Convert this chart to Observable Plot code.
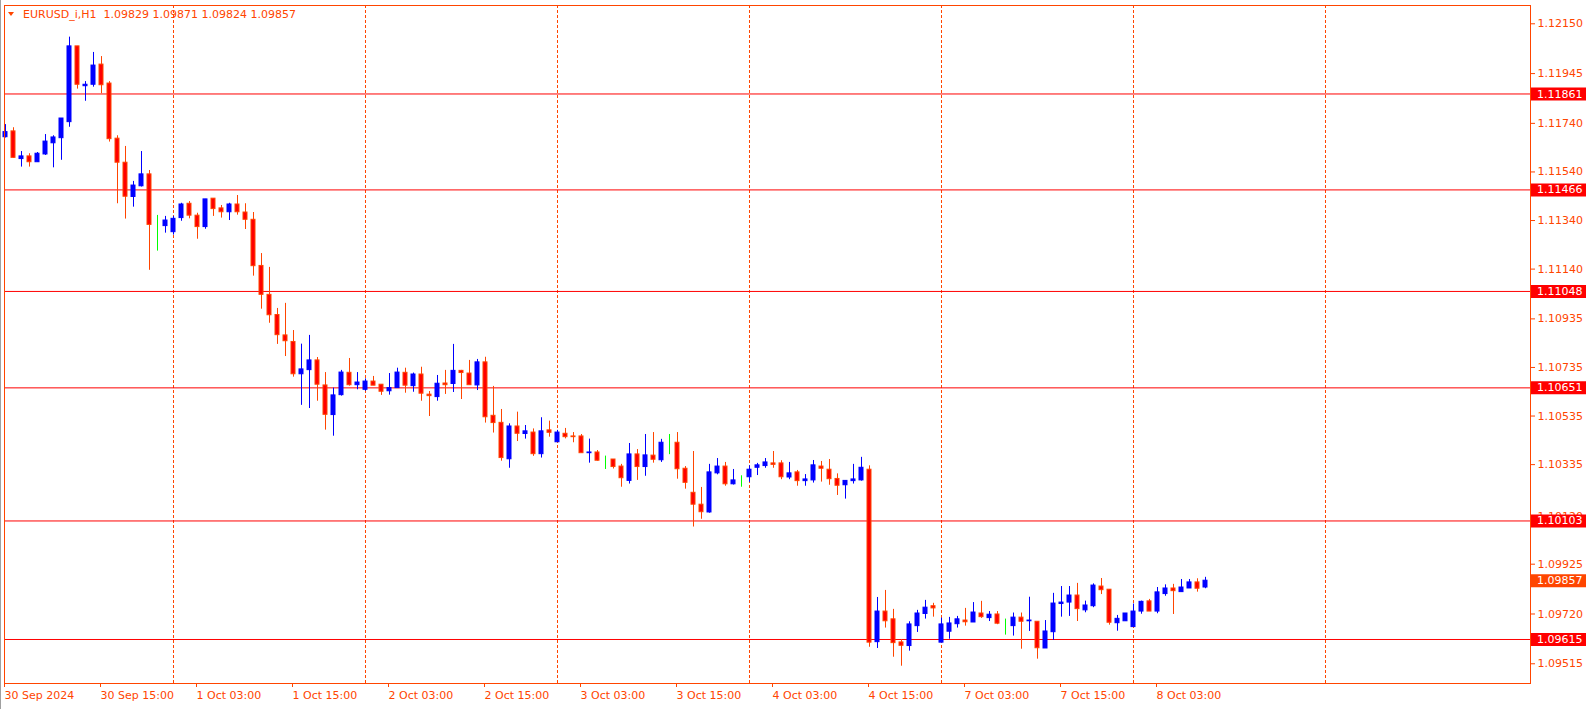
<!DOCTYPE html>
<html><head><meta charset="utf-8">
<script src="https://cdn.jsdelivr.net/npm/d3@7"></script>
<script src="https://cdn.jsdelivr.net/npm/@observablehq/plot@0.6"></script>
<style>
html,body{margin:0;padding:0;background:#fff;overflow:hidden}
#wrap{position:relative;width:1586px;height:709px}
#title{position:absolute;left:23px;top:9px;font:11px "DejaVu Sans";line-height:11px;color:#ff4500;white-space:pre}
#tri{position:absolute;left:8px;top:12px;width:0;height:0;border-left:3.5px solid transparent;border-right:3.5px solid transparent;border-top:4px solid #ff4500}
#edge{position:absolute;left:0;top:0;width:1px;height:709px;background:#a0a0a0}
</style></head>
<body><div id="wrap"><div id="chart"></div><div id="tri"></div><div id="title"></div><div id="edge"></div></div>
<script>
const symbolName = "EURUSD_i,H1";

const opens = [1.11683,1.11707,1.11593,1.11604,1.11580,1.11612,1.11658,1.11679,1.11745,1.12057,
1.11893,1.11899,1.11982,1.11904,1.11677,1.11578,1.11437,1.11481,1.11530,1.11322,
1.11317,1.11292,1.11350,1.11409,1.11360,1.11313,1.11430,1.11390,1.11374,1.11406,
1.11373,1.11343,1.11153,1.11034,1.10951,1.10867,1.10840,1.10707,1.10724,1.10764,
1.10661,1.10539,1.10621,1.10713,1.10662,1.10643,1.10677,1.10664,1.10637,1.10650,
1.10713,1.10658,1.10706,1.10623,1.10613,1.10669,1.10667,1.10721,1.10710,1.10661,
1.10756,1.10536,1.10507,1.10357,1.10492,1.10461,1.10467,1.10378,1.10476,1.10427,
1.10462,1.10451,1.10451,1.10382,1.10385,1.10353,1.10356,1.10327,1.10268,1.10377,
1.10325,1.10372,1.10353,1.10425,1.10425,1.10318,1.10219,1.10170,1.10138,1.10299,
1.10327,1.10254,1.10267,1.10283,1.10322,1.10329,1.10340,1.10340,1.10282,1.10303,
1.10267,1.10270,1.10327,1.10314,1.10276,1.10250,1.10267,1.10270,1.10314,1.09604,
1.09730,1.09698,1.09603,1.09588,1.09670,1.09720,1.09752,1.09602,1.09647,1.09678,
1.09693,1.09685,1.09722,1.09703,1.09718,1.09681,1.09670,1.09705,1.09690,1.09688,
1.09578,1.09645,1.09761,1.09767,1.09796,1.09735,1.09752,1.09833,1.09820,1.09682,
1.09690,1.09666,1.09730,1.09772,1.09730,1.09802,1.09825,1.09810,1.09825,1.09850,
1.09829];

const highs = [1.11735,1.11722,1.11624,1.11615,1.11620,1.11694,1.11689,1.11760,1.12095,1.12057,
1.11912,1.12032,1.12015,1.11912,1.11689,1.11645,1.11501,1.11624,1.11546,1.11361,
1.11357,1.11357,1.11411,1.11418,1.11370,1.11427,1.11430,1.11402,1.11411,1.11443,
1.11409,1.11373,1.11204,1.11147,1.10978,1.10999,1.10887,1.10831,1.10867,1.10776,
1.10714,1.10650,1.10723,1.10772,1.10714,1.10688,1.10698,1.10664,1.10710,1.10732,
1.10732,1.10712,1.10736,1.10636,1.10702,1.10723,1.10830,1.10723,1.10764,1.10768,
1.10777,1.10657,1.10562,1.10503,1.10551,1.10496,1.10482,1.10528,1.10514,1.10476,
1.10484,1.10467,1.10459,1.10440,1.10393,1.10370,1.10356,1.10336,1.10422,1.10397,
1.10459,1.10467,1.10439,1.10459,1.10467,1.10327,1.10389,1.10241,1.10336,1.10360,
1.10344,1.10315,1.10289,1.10330,1.10340,1.10360,1.10389,1.10351,1.10344,1.10311,
1.10294,1.10352,1.10348,1.10356,1.10297,1.10268,1.10336,1.10365,1.10330,1.09788,
1.09817,1.09739,1.09615,1.09688,1.09735,1.09776,1.09764,1.09703,1.09706,1.09710,
1.09743,1.09767,1.09772,1.09730,1.09730,1.09699,1.09724,1.09724,1.09789,1.09688,
1.09693,1.09805,1.09833,1.09833,1.09846,1.09773,1.09844,1.09866,1.09820,1.09714,
1.09722,1.09761,1.09773,1.09780,1.09829,1.09840,1.09842,1.09862,1.09862,1.09865,
1.09871];

const lows = [1.11680,1.11596,1.11560,1.11560,1.11580,1.11608,1.11557,1.11588,1.11724,1.11881,
1.11831,1.11889,1.11862,1.11663,1.11409,1.11346,1.11395,1.11478,1.11135,1.11214,
1.11288,1.11280,1.11337,1.11347,1.11263,1.11304,1.11357,1.11350,1.11340,1.11362,
1.11303,1.11111,1.10975,1.10917,1.10830,1.10780,1.10695,1.10579,1.10566,1.10596,
1.10477,1.10452,1.10617,1.10658,1.10643,1.10637,1.10660,1.10620,1.10621,1.10650,
1.10629,1.10633,1.10596,1.10533,1.10596,1.10624,1.10632,1.10603,1.10662,1.10640,
1.10506,1.10465,1.10349,1.10320,1.10430,1.10440,1.10369,1.10362,1.10448,1.10427,
1.10441,1.10425,1.10382,1.10341,1.10349,1.10315,1.10317,1.10242,1.10255,1.10270,
1.10287,1.10341,1.10344,1.10376,1.10275,1.10234,1.10078,1.10110,1.10135,1.10293,
1.10246,1.10251,1.10242,1.10262,1.10290,1.10320,1.10320,1.10273,1.10273,1.10246,
1.10246,1.10259,1.10263,1.10250,1.10208,1.10193,1.10255,1.10267,1.09583,1.09578,
1.09662,1.09542,1.09505,1.09567,1.09644,1.09699,1.09707,1.09602,1.09616,1.09662,
1.09670,1.09685,1.09702,1.09689,1.09676,1.09633,1.09629,1.09575,1.09648,1.09534,
1.09578,1.09611,1.09707,1.09710,1.09689,1.09725,1.09746,1.09800,1.09674,1.09649,
1.09690,1.09666,1.09719,1.09730,1.09721,1.09793,1.09718,1.09810,1.09825,1.09810,
1.09824];

const closes = [1.11704,1.11598,1.11604,1.11580,1.11615,1.11665,1.11682,1.11760,1.12057,1.11899,
1.11899,1.11978,1.11897,1.11675,1.11578,1.11438,1.11484,1.11530,1.11322,1.11322,
1.11340,1.11347,1.11406,1.11360,1.11313,1.11427,1.11387,1.11374,1.11406,1.11374,
1.11343,1.11152,1.11034,1.10950,1.10868,1.10843,1.10707,1.10727,1.10764,1.10664,
1.10540,1.10620,1.10714,1.10662,1.10673,1.10677,1.10660,1.10635,1.10650,1.10714,
1.10660,1.10706,1.10627,1.10617,1.10668,1.10662,1.10721,1.10712,1.10662,1.10756,
1.10530,1.10506,1.10362,1.10492,1.10462,1.10472,1.10378,1.10472,1.10466,1.10467,
1.10448,1.10448,1.10382,1.10385,1.10351,1.10353,1.10325,1.10279,1.10377,1.10325,
1.10373,1.10355,1.10425,1.10425,1.10316,1.10260,1.10170,1.10139,1.10303,1.10327,
1.10254,1.10270,1.10267,1.10314,1.10332,1.10344,1.10334,1.10283,1.10299,1.10267,
1.10274,1.10332,1.10318,1.10275,1.10248,1.10268,1.10274,1.10322,1.09602,1.09730,
1.09690,1.09600,1.09589,1.09677,1.09722,1.09746,1.09743,1.09677,1.09681,1.09698,
1.09686,1.09726,1.09707,1.09717,1.09680,1.09681,1.09705,1.09688,1.09693,1.09579,
1.09648,1.09763,1.09767,1.09796,1.09740,1.09755,1.09837,1.09818,1.09684,1.09700,
1.09722,1.09730,1.09770,1.09730,1.09809,1.09825,1.09814,1.09829,1.09850,1.09824,
1.09857];

// bar index of each time label (bar 0 = 30 Sep 2024 03:00, H1)
const timeTickIdx = [0,12,24,36,48,60,72,84,96,108,120,132,144];
const timeTickLabels = ["30 Sep 2024","30 Sep 15:00","1 Oct 03:00","1 Oct 15:00","2 Oct 03:00","2 Oct 15:00",
  "3 Oct 03:00","3 Oct 15:00","4 Oct 03:00","4 Oct 15:00","7 Oct 03:00","7 Oct 15:00","8 Oct 03:00"];
// bar index of day separators (00:00)
const daySepIdx = [21,45,69,93,117,141,165];
// horizontal levels
const levels = [1.11861,1.11466,1.11048,1.10651,1.10103,1.09615];
// price axis labels
const priceTicks = [1.12150,1.11945,1.11740,1.11540,1.11340,1.11140,1.10935,1.10735,1.10535,1.10335,1.10120,1.09925,1.09720,1.09515];

const FG = "#ff4500", LEVEL = "#ff0000", BULL = "#0000ff", BEAR = "#ff0000", DOJI = "#00ff00";
const n = opens.length;
const idx = d3.range(n);
const last = n - 1;
const xDomain = [-0.125, 190.625];
const yDomain = [1.094338, 1.122253];
const xr = xDomain[1];
const pxX = 8; // pixels per bar unit

const dir = i => closes[i] > opens[i] ? 1 : closes[i] < opens[i] ? -1 : 0;
const wickColor = i => dir(i) > 0 ? BULL : dir(i) < 0 ? FG : DOJI;
const bodyFill = i => dir(i) > 0 ? BULL : dir(i) < 0 ? BEAR : DOJI;
const bodyStroke = i => dir(i) > 0 ? BULL : dir(i) < 0 ? FG : DOJI;

const chart = Plot.plot({
  width: 1586, height: 709,
  marginLeft: 4, marginRight: 56, marginTop: 5, marginBottom: 26,
  style: {fontFamily: "DejaVu Sans", fontSize: "11px", background: "#fff", color: FG, overflow: "visible"},
  x: {domain: xDomain, axis: null},
  y: {domain: yDomain, axis: null},
  color: {type: "identity"},
  marks: [
    Plot.ruleX(daySepIdx, {stroke: FG, strokeDasharray: "3,2"}),
    Plot.ruleY(levels, {stroke: LEVEL}),
    Plot.ruleX(idx, {x: i => i, y1: i => lows[i], y2: i => highs[i], stroke: wickColor}),
    Plot.rect(idx, {x1: i => i - 2 / pxX, x2: i => i + 2 / pxX, y1: i => opens[i], y2: i => closes[i], fill: bodyFill, stroke: bodyStroke}),
    Plot.frame({stroke: FG}),
    Plot.axisY(priceTicks, {anchor: "right", tickSize: 4, tickPadding: 3, tickFormat: d => d.toFixed(5), fill: FG, stroke: FG, fontSize: 11, label: null}),
    Plot.axisX(timeTickIdx, {anchor: "bottom", tickSize: 4, tickPadding: 4, tickFormat: d => timeTickLabels[timeTickIdx.indexOf(d)], textAnchor: "start", dx: -1, fill: FG, stroke: FG, fontSize: 11, label: null}),
    Plot.ruleY(levels, {x1: xr + 1 / pxX, x2: xr + 56 / pxX, stroke: LEVEL, strokeWidth: 13}),
    Plot.text(levels, {x: xr + 6.5 / pxX, y: d => d, text: d => d.toFixed(5), fill: "#fff", textAnchor: "start", fontSize: 11}),
    Plot.ruleY([closes[last]], {x1: xr + 1 / pxX, x2: xr + 56 / pxX, stroke: FG, strokeWidth: 13}),
    Plot.text([closes[last]], {x: xr + 6.5 / pxX, y: d => d, text: d => d.toFixed(5), fill: "#fff", textAnchor: "start", fontSize: 11})
  ]
});
document.getElementById("chart").appendChild(chart);
document.getElementById("title").textContent =
  symbolName + "  " + [opens[last], highs[last], lows[last], closes[last]].map(v => v.toFixed(5)).join(" ");
</script>
</body></html>
